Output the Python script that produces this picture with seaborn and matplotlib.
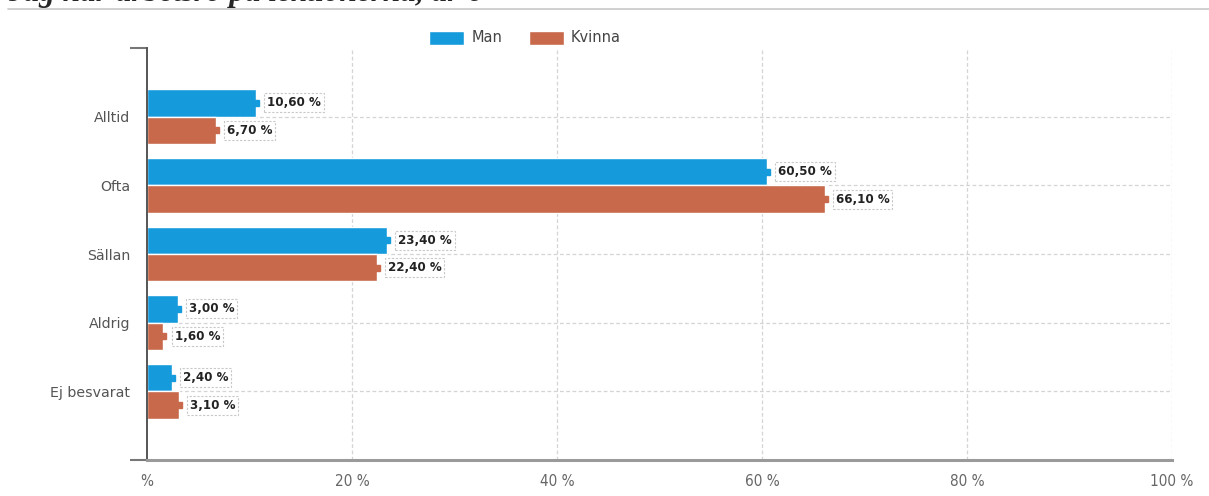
import pandas as pd
import matplotlib
matplotlib.use("Agg")
import matplotlib.pyplot as plt
import seaborn as sns

# data
categories = ["Alltid", "Ofta", "Sällan", "Aldrig", "Ej besvarat"]
groups = ["Man", "Kvinna"]
man_values = [10.6, 60.5, 23.4, 3.0, 2.4]
kvinna_values = [6.7, 66.1, 22.4, 1.6, 3.1]
x_ticks = [0, 20, 40, 60, 80, 100]
x_tick_labels = ["%", "20 %", "40 %", "60 %", "80 %", "100 %"]
title = "Jag har arbetsro på lektionerna, år 6"

colors = {"Man": "#159bdb", "Kvinna": "#c9694b"}

df = pd.DataFrame({
    "Svar": categories * 2,
    "Kön": ["Man"] * len(categories) + ["Kvinna"] * len(categories),
    "Andel": man_values + kvinna_values,
})

sns.set_style("white")
plt.rcParams["font.family"] = ["DejaVu Sans"]

W, H = 1209, 496
fig = plt.figure(figsize=(W / 100, H / 100), dpi=100)
ax = fig.add_axes([147 / W, 1 - 460 / H, (1172 - 147) / W, (460 - 48) / H])

sns.barplot(data=df, y="Svar", x="Andel", hue="Kön", hue_order=groups,
            order=categories, palette=colors, orient="h", width=0.8,
            saturation=1, ax=ax, legend=True)

ax.set_xlim(0, 100)
ax.set_ylim(5, -1)
ax.set_xlabel("")
ax.set_ylabel("")

# grid
ax.set_axisbelow(True)
for xv in x_ticks[1:]:
    ax.axvline(xv, color="#d4d4d4", lw=0.9, ls=(0, (3, 2)), zorder=0)
for i in range(len(categories)):
    ax.axhline(i, color="#d4d4d4", lw=0.9, ls=(0, (3, 2)), zorder=0)

# spines
for s in ["top", "right"]:
    ax.spines[s].set_visible(False)
ax.spines["left"].set_color("#555555")
ax.spines["left"].set_linewidth(1.4)
ax.spines["bottom"].set_color("#9a9a9a")
ax.spines["bottom"].set_linewidth(2.2)

ax.set_xticks(x_ticks)
ax.set_xticklabels(x_tick_labels, fontstretch="condensed",
                   fontsize=11, color="#666666")
ax.tick_params(axis="x", length=0, pad=10)
ax.tick_params(axis="y", length=9, width=1, color="#c0c0c0", labelsize=10.2,
               labelcolor="#555555", pad=3)
ax.set_yticks([-1, 5], minor=True)
ax.tick_params(axis="y", which="minor", length=12, width=1.5, color="#777777", left=True)

# value labels with little end marker
for cont, g in zip(ax.containers, groups):
    for p in cont.patches:
        ax.plot(p.get_width(), p.get_y() + p.get_height() / 2, marker="s",
                ms=4, color=colors[g], clip_on=False, zorder=3)
    ax.bar_label(cont, fmt=lambda v: f"{v:.2f} %".replace(".", ","), padding=8,
                 fontsize=8.6, fontweight="bold", color="#222222",
                 bbox=dict(boxstyle="square,pad=0.25", fc="white",
                           ec="#c8c8c8", ls=(0, (2, 1.5)), lw=0.8))

leg = ax.legend(loc="center", bbox_to_anchor=(525 / W, 1 - 38 / H),
                bbox_transform=fig.transFigure, ncol=2, frameon=False,
                handlelength=2.4, handleheight=1.1, columnspacing=1.8,
                handletextpad=0.5, fontsize=10.5)
for t in leg.get_texts():
    t.set_color("#444444")

# title, cut off at the top edge as in the source
fig.text(8 / W, 1 - 1.2 / H, title, family=["Liberation Serif", "DejaVu Serif"],
         fontsize=22.5, fontweight="bold", fontstyle="italic", va="baseline", ha="left")
fig.add_artist(plt.Line2D([8 / W, 1], [1 - 8.5 / H, 1 - 8.5 / H], color="#c8c8c8",
                          lw=1.2, transform=fig.transFigure))

fig.savefig("out.png", dpi=100)
